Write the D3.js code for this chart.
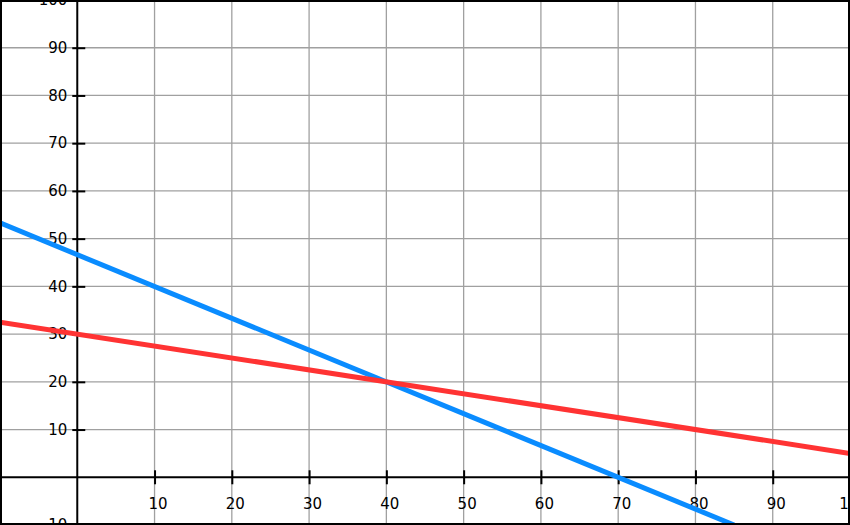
<!DOCTYPE html>
<html>
<head>
<meta charset="utf-8">
<script src="https://cdn.jsdelivr.net/npm/d3@7"></script>
<style>
  body { margin: 0; background: #fff; }
  .tick text { font-family: "DejaVu Sans", sans-serif; font-size: 15px; fill: #000; }
</style>
</head>
<body>
<script>
//data
var xDomain = [-10, 100];
var yDomain = [-10, 100];
var gridValues = [10, 20, 30, 40, 50, 60, 70, 80, 90];
var xTickValues = [10, 20, 30, 40, 50, 60, 70, 80, 90, 100];
var yTickValues = [-10, 10, 20, 30, 40, 50, 60, 70, 80, 90, 100];
var blueLine = [[-10, 53.3], [85, -10]];
var redLine = [[-10, 32.5], [100, 5]];

var width = 850, height = 525;

var xScale = d3.scaleLinear().domain(xDomain).range([0, width]);
var yScale = d3.scaleLinear().domain(yDomain).range([height, 0]);

var svg = d3.select("body").append("svg")
            .attr("width", width)
            .attr("height", height);

//grid lines
svg.append("g").selectAll("line")
   .data(gridValues).enter().append("line")
   .attr("x1", function(d){ return xScale(d); })
   .attr("x2", function(d){ return xScale(d); })
   .attr("y1", 0).attr("y2", height)
   .attr("stroke", "#a0a0a0").attr("stroke-width", 1.3);

svg.append("g").selectAll("line")
   .data(gridValues).enter().append("line")
   .attr("y1", function(d){ return yScale(d); })
   .attr("y2", function(d){ return yScale(d); })
   .attr("x1", 0).attr("x2", width)
   .attr("stroke", "#a0a0a0").attr("stroke-width", 1.3);

//x axis through y = 0
var xAxis = d3.axisBottom(xScale).tickValues(xTickValues).tickSize(7).tickSizeOuter(0).tickPadding(14);
var gx = svg.append("g")
   .attr("transform", "translate(0," + yScale(0) + ")")
   .call(xAxis);
gx.attr("font-family", null).attr("font-size", null);
gx.select(".domain").attr("stroke", "#000").attr("stroke-width", 2).attr("d", "M0,0H" + width);
gx.selectAll(".tick line").attr("y1", -7).attr("stroke-width", 2);
gx.selectAll(".tick text").attr("dx", 3);

//y axis through x = 0
var yAxis = d3.axisLeft(yScale).tickValues(yTickValues).tickSize(5).tickSizeOuter(0).tickPadding(5)
              .tickFormat(function(d){ return d < 0 ? "-" + Math.abs(d) : d; });
var gy = svg.append("g")
   .attr("transform", "translate(" + xScale(0) + ",0)")
   .call(yAxis);
gy.attr("font-family", null).attr("font-size", null);
gy.select(".domain").attr("stroke", "#000").attr("stroke-width", 2).attr("d", "M0,0V" + height);
gy.selectAll(".tick line").attr("x2", 8).attr("x1", -5).attr("stroke-width", 2);

//lines
var line = d3.line()
             .x(function(d){ return xScale(d[0]); })
             .y(function(d){ return yScale(d[1]); });

svg.append("path")
   .attr("d", line(blueLine))
   .attr("fill", "none")
   .attr("stroke", "#0a8cff")
   .attr("stroke-width", 5);

svg.append("path")
   .attr("d", line(redLine))
   .attr("fill", "none")
   .attr("stroke", "#ff3333")
   .attr("stroke-width", 5);

//frame
svg.append("rect")
   .attr("x", 1).attr("y", 1)
   .attr("width", width - 2).attr("height", height - 2)
   .attr("fill", "none")
   .attr("stroke", "#000")
   .attr("stroke-width", 2);
</script>
</body>
</html>
